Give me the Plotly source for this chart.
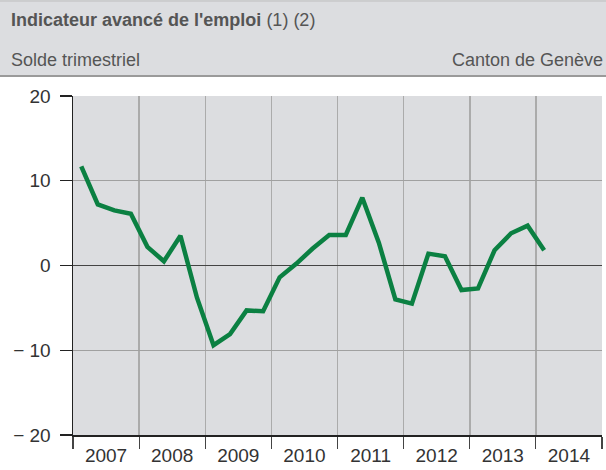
import plotly.graph_objects as go

# ---- data ----
years = [2007]*4 + [2008]*4 + [2009]*4 + [2010]*4 + [2011]*4 + [2012]*4 + [2013]*4 + [2014]
quarters = [1, 2, 3, 4]*7 + [1]
values = [11.7, 7.2, 6.5, 6.1,
          2.2, 0.5, 3.5, -3.8,
          -9.4, -8.1, -5.3, -5.4,
          -1.4, 0.2, 2.0, 3.6,
          3.6, 8.0, 2.7, -4.0,
          -4.5, 1.4, 1.1, -2.9,
          -2.7, 1.8, 3.8, 4.7,
          1.8]
year_labels = ["2007", "2008", "2009", "2010", "2011", "2012", "2013", "2014"]
y_ticks = [-20, -10, 0, 10, 20]
y_ticktext = ["\u2212 20", "\u2212 10", "0", "10", "20"]

title_bold = "Indicateur avancé de l'emploi"
title_rest = " (1) (2)"
subtitle_left = "Solde trimestriel"
subtitle_right = "Canton de Genève"

# ---- layout constants ----
W, H = 606, 470
L, R, T, B = 73, 4, 96, 35
PW, PH = W - L - R, H - T - B

def px_x(p):
    return (p - L) / PW

def px_y(p):
    return (H - B - p) / PH

x_pos = [y + (q - 0.5) / 4 for y, q in zip(years, quarters)]
year_starts = [int(y) for y in year_labels] + [int(year_labels[-1]) + 1]
label_pos = [int(y) + 0.5 for y in year_labels]

font_family = "Liberation Sans, Arial, sans-serif"

fig = go.Figure()
fig.add_trace(go.Scatter(
    x=x_pos, y=values, mode="lines",
    line=dict(color="#0b8042", width=4.5),
    hoverinfo="skip", showlegend=False,
))

fig.update_layout(
    width=W, height=H,
    margin=dict(l=L, r=R, t=T, b=B, pad=0, autoexpand=False),
    paper_bgcolor="white",
    plot_bgcolor="#dcdde0",
    font=dict(family=font_family, size=18, color="#333333"),
    showlegend=False,
)

fig.update_xaxes(
    range=[year_starts[0], year_starts[-1]],
    tickmode="array", tickvals=label_pos, ticktext=year_labels,
    ticks="outside", ticklen=3, tickcolor="rgba(0,0,0,0)",
    showgrid=False, zeroline=False,
    showline=True, linecolor="#222222", linewidth=1.5,
    minor=dict(tickmode="array", tickvals=year_starts, ticks="outside", ticklen=12,
               tickcolor="#444444", tickwidth=1.2,
               showgrid=True, gridcolor="#ababab", gridwidth=1.5),
    tickfont=dict(size=19, color="#333333"),
    automargin=False,
    fixedrange=True,
)
fig.update_yaxes(
    range=[-20, 20],
    tickmode="array", tickvals=y_ticks, ticktext=y_ticktext,
    ticks="outside", ticklen=12, tickcolor="#222222", tickwidth=1.2,
    showgrid=True, gridcolor="#a0a0a0", gridwidth=1,
    zeroline=True, zerolinecolor="#444444", zerolinewidth=1.5,
    showline=True, linecolor="#222222", linewidth=1.5,
    tickfont=dict(size=19, color="#333333"),
    ticklabelstandoff=5,
    automargin=False,
    fixedrange=True,
)

# header band
fig.add_shape(type="rect", xref="paper", yref="paper",
              x0=px_x(0), x1=px_x(W), y0=px_y(76), y1=px_y(0),
              fillcolor="#dcdde0", line=dict(width=0), layer="below")
fig.add_shape(type="line", xref="paper", yref="paper",
              x0=px_x(0), x1=px_x(W), y0=px_y(76), y1=px_y(76),
              line=dict(color="#9a9a9a", width=2))
fig.add_shape(type="line", xref="paper", yref="paper",
              x0=px_x(0), x1=px_x(W), y0=px_y(1), y1=px_y(1),
              line=dict(color="#bdbdbd", width=1))

fig.add_annotation(xref="paper", yref="paper", x=px_x(9), y=px_y(20),
                   xanchor="left", yanchor="middle", showarrow=False,
                   text="<b>" + title_bold + "</b>" + title_rest,
                   font=dict(family=font_family, size=18, color="#555555"))
fig.add_annotation(xref="paper", yref="paper", x=px_x(9), y=px_y(60),
                   xanchor="left", yanchor="middle", showarrow=False,
                   text=subtitle_left,
                   font=dict(family=font_family, size=18, color="#555555"))
fig.add_annotation(xref="paper", yref="paper", x=px_x(605), y=px_y(60),
                   xanchor="right", yanchor="middle", showarrow=False,
                   text=subtitle_right,
                   font=dict(family=font_family, size=18, color="#555555"))

fig.write_html("out.html",
               config={"displayModeBar": False, "staticPlot": True},
               post_script="document.body.style.margin='0';document.body.style.padding='0';")
